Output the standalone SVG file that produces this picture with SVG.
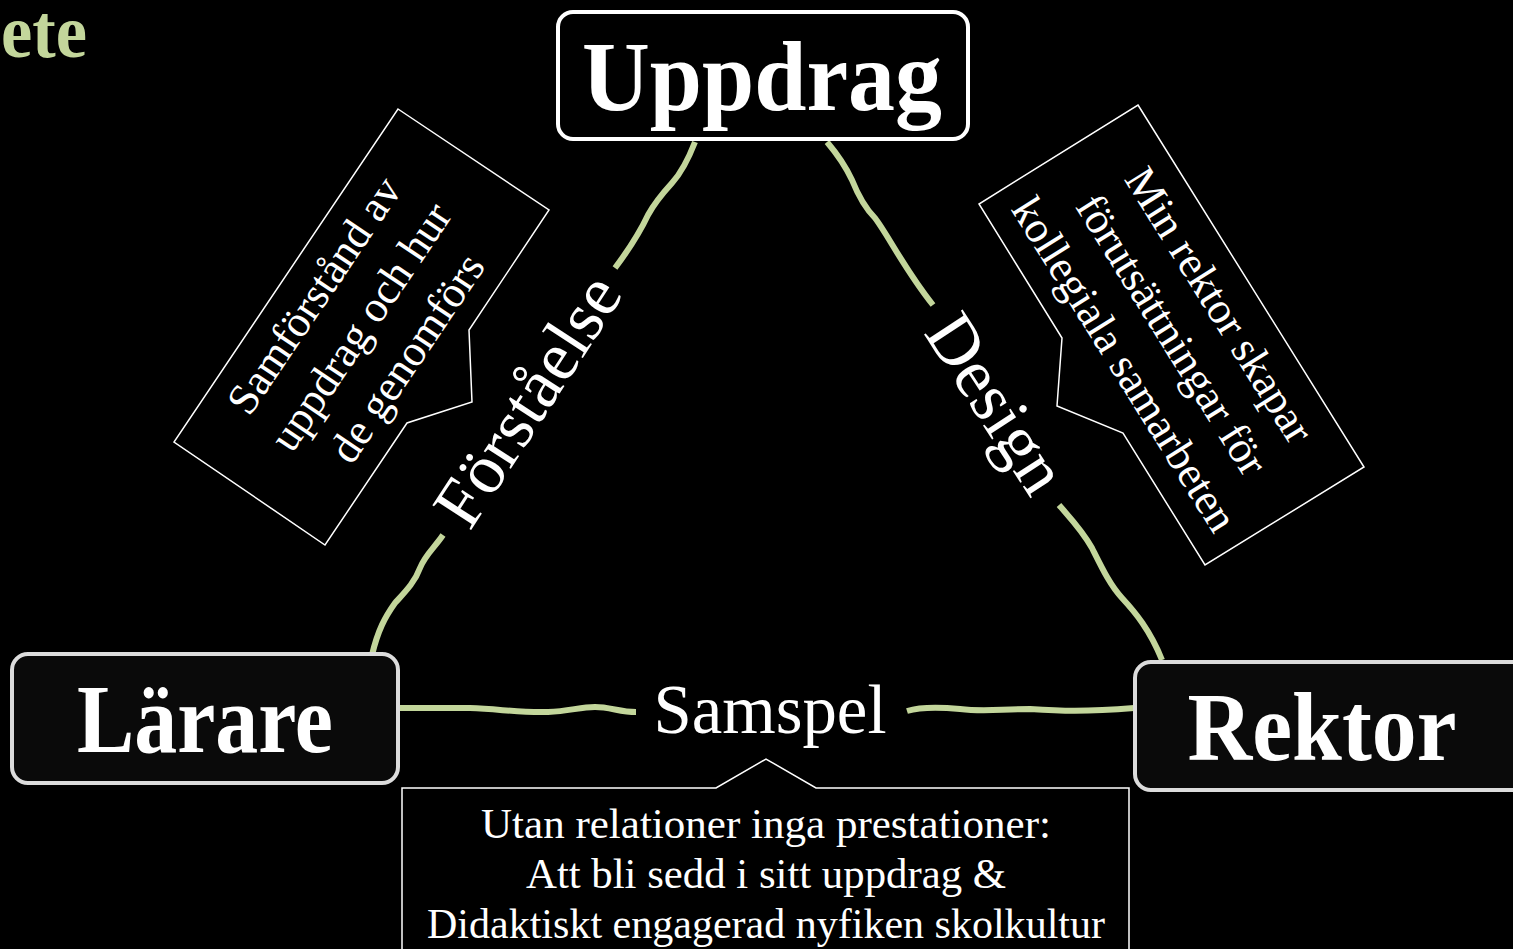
<svg xmlns="http://www.w3.org/2000/svg" width="1513" height="949" viewBox="0 0 1513 949">
<style>
.bg{fill:#000}
.conn{fill:none;stroke:#c3d69b;stroke-width:6;stroke-linecap:butt;stroke-linejoin:round}
.node{fill:#0a0a0a;stroke:#dcdcdc;stroke-width:4}
.nodetop{fill:#000;stroke:#fff;stroke-width:4}
.ntext{font-family:"Liberation Serif",serif;font-weight:bold;fill:#fff;text-anchor:middle}
.lbl{font-family:"Liberation Serif",serif;fill:#fff;font-size:70px;text-anchor:middle}
.call{fill:#000;stroke:#fff;stroke-width:1.5;stroke-linejoin:miter}
.ctext{font-family:"Liberation Serif",serif;fill:#fff;font-size:42px;text-anchor:middle}
.rtext{font-family:"Liberation Serif",serif;fill:#fff;font-size:44px;text-anchor:middle}
.title{font-family:"Liberation Serif",serif;fill:#c3d69b;font-size:76px;font-weight:bold}
</style>
<rect class="bg" x="0" y="0" width="1513" height="949"/>
<text class="title" x="1" y="57" textLength="86" lengthAdjust="spacingAndGlyphs">ete</text>

<g id="connectors">
  <path class="conn" d="M695,142 C688,160 682,172 672,183 C662,194 655,202 648,215 C640,232 630,248 615,268"/>
  <path class="conn" d="M443,535 C435,547 425,555 420,568 C415,582 405,592 395,603 C385,617 378,630 372,655"/>
  <path class="conn" d="M827,142 C838,155 845,165 852,180 C858,195 865,208 875,218 C888,235 905,270 933,305"/>
  <path class="conn" d="M1059,505 C1072,520 1082,530 1092,548 C1102,568 1110,585 1122,598 C1135,612 1150,630 1162,660"/>
  <path class="conn" d="M400,708 L470,708 C500,709 520,713 548,712 C570,711 580,707 595,707 C610,707 620,712 636,712"/>
  <path class="conn" d="M907,711 C920,707 940,707 960,709 C985,712 1000,709 1030,709 C1060,711 1085,712 1134,708"/>
  <text class="lbl" transform="translate(547,413) rotate(-57)">Förståelse</text>
  <text class="lbl" transform="translate(977,416) rotate(57)">Design</text>
  <text class="lbl" x="770" y="733" textLength="233" lengthAdjust="spacingAndGlyphs">Samspel</text>
</g>

<g id="node-uppdrag">
  <rect class="nodetop" x="558" y="12" width="410" height="127" rx="15"/>
  <text class="ntext" x="762" y="110" font-size="100" textLength="360" lengthAdjust="spacingAndGlyphs">Uppdrag</text>
</g>
<g id="node-larare">
  <rect class="node" x="12" y="654" width="386" height="129" rx="16"/>
  <text class="ntext" x="205" y="752" font-size="98" textLength="256" lengthAdjust="spacingAndGlyphs">Lärare</text>
</g>
<g id="node-rektor">
  <rect class="node" x="1135" y="662" width="400" height="128" rx="16"/>
  <text class="ntext" x="1322" y="760" font-size="98" textLength="269" lengthAdjust="spacingAndGlyphs">Rektor</text>
</g>

<g id="callout-left">
  <path class="call" d="M398,109 L549,210 L469,330 L472,402 L407,423 L325,545 L174,442 Z"/>
  <g transform="translate(361,327) rotate(-56)">
    <text class="rtext" x="0" y="-42">Samförstånd av</text>
    <text class="rtext" x="0" y="14">uppdrag och hur</text>
    <text class="rtext" x="0" y="70">de genomförs</text>
  </g>
</g>
<g id="callout-right">
  <path class="call" d="M1138,105 L1364,467 L1205,565 L1123,433 L1057,406 L1062,338 L979,204 Z"/>
  <g transform="translate(1171.5,335) rotate(58)">
    <text class="rtext" x="0" y="-42">Min rektor skapar</text>
    <text class="rtext" x="0" y="14">förutsättningar för</text>
    <text class="rtext" x="0" y="70">kollegiala samarbeten</text>
  </g>
</g>
<g id="callout-bottom">
  <path class="call" d="M402,788 L716,788 L766,759 L816,788 L1129,788 L1129,960 L402,960 Z"/>
  <text class="ctext" x="766" y="838" textLength="570" lengthAdjust="spacingAndGlyphs">Utan relationer inga prestationer:</text>
  <text class="ctext" x="766" y="888" textLength="480" lengthAdjust="spacingAndGlyphs">Att bli sedd i sitt uppdrag &amp;</text>
  <text class="ctext" x="766" y="938" textLength="678" lengthAdjust="spacingAndGlyphs">Didaktiskt engagerad nyfiken skolkultur</text>
</g>
</svg>
